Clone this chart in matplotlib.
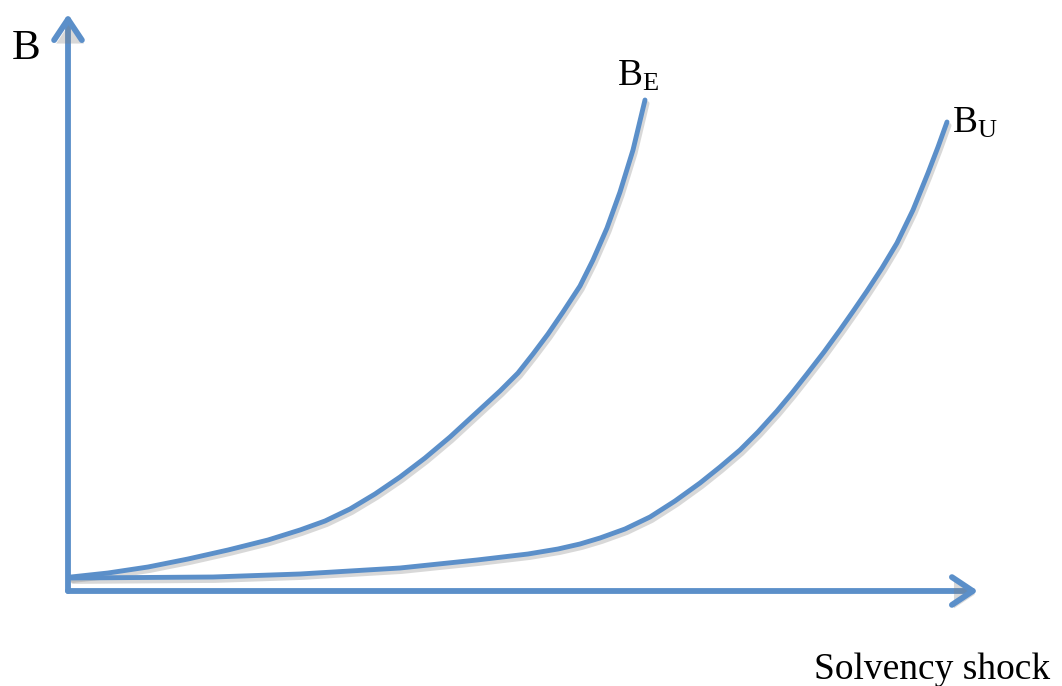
import matplotlib
matplotlib.use("Agg")
import matplotlib.pyplot as plt
import matplotlib.patheffects as pe
from matplotlib.patches import FancyArrowPatch

# Curve data (x = solvency shock, y = B), origin at the axes corner
be_x = [3, 40, 80, 120, 160, 200, 232, 257, 282, 307, 332, 357, 382, 407, 432, 450,
        465, 480, 495, 512, 525, 539, 552, 565, 577]
be_y = [13, 17, 23, 31, 40, 50, 60, 69, 81, 96, 113, 132, 153, 176, 199, 217,
        236, 256, 278, 304, 330, 362, 398, 440, 490]
bu_x = [3, 145, 232, 332, 409, 460, 490, 512, 532, 557, 582, 607, 632, 652, 672, 690, 709, 724,
        739, 756, 772, 786, 799, 814, 829, 845, 860, 870, 879]
bu_y = [12, 13, 16, 22, 30, 36, 41, 46, 52, 61, 73, 89, 107, 123, 140, 158, 179, 197,
        216, 238, 260, 280, 299, 322, 347, 380, 417, 443, 468]

x_axis_end = 910
y_axis_end = 576

labels = {"y": "B", "x": "Solvency shock", "be": "E", "bu": "U"}

color = "#5b8fc9"
W, H = 1062, 686
fig = plt.figure(figsize=(W / 100, H / 100), dpi=100)
ax = fig.add_axes([0, 0, 1, 1])
ax.set_xlim(-68, W - 68)
ax.set_ylim(590 - H, 590)
ax.axis("off")

shadow = [pe.SimpleLineShadow(offset=(1.5, -2.5), shadow_color="0.5", alpha=0.3), pe.Normal()]

for xs, ys in [(be_x, be_y), (bu_x, bu_y)]:
    ax.plot(xs, ys, color=color, lw=3.5, solid_capstyle="round", solid_joinstyle="round",
            path_effects=shadow, zorder=3)

for start, end in [((0, -1), (x_axis_end, -1)), ((0, -1), (0, y_axis_end))]:
    arr = FancyArrowPatch(start, end, arrowstyle="->,head_length=6,head_width=4",
                          color=color, lw=4.2, mutation_scale=2.5,
                          capstyle="round", joinstyle="round", zorder=4,
                          shrinkA=0, shrinkB=0)
    arr.set_path_effects([pe.SimplePatchShadow(offset=(1.5, -2.5), shadow_rgbFace="0.5", alpha=0.3), pe.Normal()])
    ax.add_patch(arr)

serif = "Liberation Serif"
ax.text(-56, 531, labels["y"], fontsize=31, family=serif, ha="left", va="baseline")
ax.text(550, 505, "B", fontsize=27, family=serif, ha="left", va="baseline")
ax.text(574, 500, labels["be"], fontsize=19, family=serif, ha="left", va="baseline")
ax.text(885, 458, "B", fontsize=27, family=serif, ha="left", va="baseline")
ax.text(909, 453, labels["bu"], fontsize=19, family=serif, ha="left", va="baseline")
ax.text(982, -89, labels["x"], fontsize=27, family=serif, ha="right", va="baseline")

fig.savefig("out.png", dpi=100)
